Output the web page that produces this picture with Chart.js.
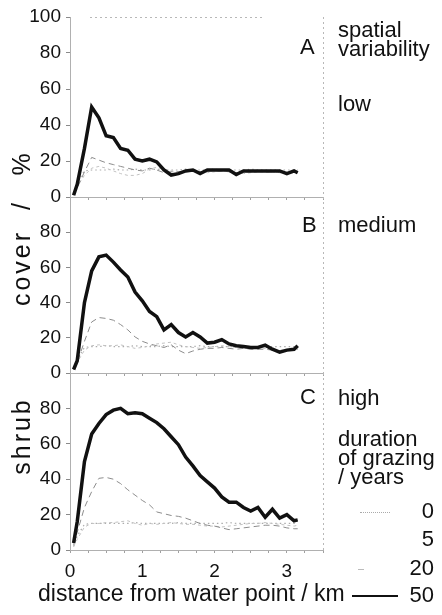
<!DOCTYPE html>
<html>
<head>
<meta charset="utf-8">
<script src="https://cdn.jsdelivr.net/npm/chart.js@4.4.0/dist/chart.umd.min.js"></script>
<style>
  html, body { margin: 0; padding: 0; background: #fff; }
  #wrap { position: relative; width: 442px; height: 615px; overflow: hidden;
          font-family: "Liberation Sans", Arial, sans-serif; color: #111; }
  #wrap canvas { position: absolute; left: 0; top: 0; }
  .t { position: absolute; font-size: 22px; line-height: 22px; white-space: nowrap; }
  .num { position: absolute; right: 8px; font-size: 22px; line-height: 22px; }
  .ytitle { position: absolute; font-size: 25px; line-height: 25px; letter-spacing: 3px;
            white-space: nowrap; transform: translate(-50%, -50%) rotate(-90deg); }
  .sample { position: absolute; }
</style>
</head>
<body>
<div id="wrap">
  <canvas id="panelA" width="442" height="615"></canvas>
  <canvas id="panelB" width="442" height="615"></canvas>
  <canvas id="panelC" width="442" height="615"></canvas>

  <div class="t" style="left:300px;top:36px">A</div>
  <div class="t" style="left:338px;top:19px">spatial</div>
  <div class="t" style="left:338px;top:38px">variability</div>
  <div class="t" style="left:338px;top:93px">low</div>
  <div class="t" style="left:302px;top:214px">B</div>
  <div class="t" style="left:338px;top:214px">medium</div>
  <div class="t" style="left:300px;top:386px">C</div>
  <div class="t" style="left:338px;top:387px">high</div>
  <div class="t" style="left:338px;top:428px">duration</div>
  <div class="t" style="left:338px;top:447px">of grazing</div>
  <div class="t" style="left:338px;top:466px">/ years</div>

  <div class="sample" style="left:360px;top:512px;width:30px;border-top:1px dotted #aaa"></div>
  <div class="sample" style="left:358px;top:569px;width:6px;border-top:1px solid #bbb"></div>
  <div class="sample" style="left:352px;top:595px;width:46px;height:2px;background:#111"></div>
  <div class="num" style="top:500px">0</div>
  <div class="num" style="top:528px">5</div>
  <div class="num" style="top:557px">20</div>
  <div class="num" style="top:584px">50</div>

  <div class="t" style="left:38px;top:582px;font-size:23px;line-height:23px">distance from water point / km</div>

  <div class="ytitle" style="left:21px;top:163px">%</div>
  <div class="ytitle" style="left:21px;top:205px">/</div>
  <div class="ytitle" style="left:21px;top:268px">cover</div>
  <div class="ytitle" style="left:21px;top:436px">shrub</div>
</div>

<script>
// distance from water point (km)
const distKm = [0.05, 0.1, 0.2, 0.3, 0.4, 0.5, 0.6, 0.7, 0.8, 0.9, 1.0, 1.1, 1.2, 1.3, 1.4, 1.5, 1.6,
                1.7, 1.8, 1.9, 2.0, 2.1, 2.2, 2.3, 2.4, 2.5, 2.6, 2.7, 2.8, 2.9, 3.0, 3.1, 3.15];

// shrub cover (%), panel A - low spatial variability
const lowYears50 = [1, 7, 27, 50, 44, 34, 33, 27, 26, 21, 20, 21, 19.5, 15, 12.2, 13, 14.5, 15, 13, 15,
                    15, 15, 15, 12.5, 14.5, 14.5, 14.5, 14.5, 14.5, 14.5, 13, 14.5, 13.5];
const lowYears20 = [1, 5, 14, 22, 20.5, 19, 18, 17, 16, 15, 14.5, 16, 15, 13.5, 14, 14, 14.5, 14.5, 14, 14.5,
                    14.5, 14.5, 14, 13.5, 14, 14, 14.5, 14, 14, 14, 13.5, 14, 14];
const lowYears5 = [2, 6, 12, 16, 17, 16, 14.5, 13, 12, 12, 13, 15.5, 16.5, 15.5, 14.5, 14, 14, 14.5, 14, 13.5,
                   14, 14.5, 14, 13.5, 13, 13.5, 14, 14, 14, 13.5, 13, 13.5, 13.5];
const lowYears0 = [2, 8, 14.5, 15, 15, 15, 15.5, 15, 15, 15.5, 15, 15, 15.5, 15, 15, 15, 15.5, 15, 15, 15,
                   15.5, 15, 15, 15, 15, 15.5, 15, 15, 15, 15, 15, 15, 15];

// panel B - medium spatial variability
const medYears50 = [2, 7, 40, 58, 66, 67, 63, 58.5, 54.5, 46, 41, 35, 32, 24.5, 27.5, 23, 20.5, 23, 20.5, 17,
                    17.5, 19, 16.5, 15.5, 15, 14.5, 14.5, 15.8, 13.5, 11.8, 13, 13.5, 15.5];
const medYears20 = [2, 6, 18, 29, 31.5, 31, 30, 27.5, 24.5, 20.5, 18, 16.5, 15.5, 14.5, 16, 13, 11, 12.5, 13.5, 14,
                    14, 14.5, 14, 13.5, 14, 13.5, 13.5, 13.5, 13, 12, 13, 13.5, 13.5];
const medYears5 = [2, 6, 13, 15.5, 16, 15.5, 15.5, 16, 15, 14, 14.5, 15.5, 16.5, 17, 17.5, 16, 15, 14.5, 14, 14.5,
                   15, 15.5, 15, 14.5, 14, 14, 14.5, 14, 13.5, 13, 13, 13.5, 14];
const medYears0 = [2, 8, 14.5, 15, 15, 15.5, 15, 15, 15, 15.5, 15, 15, 15, 15.5, 15, 15, 15, 15, 15.5, 15,
                   15, 15, 15, 15, 15.5, 15, 15, 15, 15, 15, 15, 15, 15];

// panel C - high spatial variability
const highYears50 = [4, 16, 50, 65.5, 71.5, 76.5, 79, 80, 77, 77.5, 77, 74.5, 72, 68.5, 64, 59.5, 52.5, 47.5, 42, 38.5,
                     35, 30, 27, 27, 24, 22, 24, 18.5, 23, 18, 20, 16.5, 17];
const highYears20 = [3, 10, 24, 33, 40.5, 41, 40, 37.5, 34, 31, 28, 25.5, 21.5, 20.5, 19.5, 19, 18, 16.5, 15, 14,
                     13.5, 12.5, 11.5, 12, 12.5, 13, 13.5, 14, 14, 13.5, 12.5, 12, 12];
const highYears5 = [2, 6, 13, 15, 15, 15.5, 15.5, 16, 16.5, 15, 14, 15, 14.5, 15, 15.5, 15, 14.5, 14.5, 14, 13.5,
                    13.5, 13, 13.5, 14, 14.5, 15, 15, 15.5, 15, 14.5, 14, 13.5, 14];
const highYears0 = [2, 8, 14.5, 15, 15, 15, 15, 15, 15, 15.5, 15, 15, 15, 15, 15, 15.5, 15, 15, 15, 15,
                    15, 15, 15.5, 15, 15, 15, 15, 15, 15, 15, 15, 15, 15];

const yTicks = [0, 20, 40, 60, 80, 100];
const xTickLabels = [0, 1, 2, 3];

const FONT = '"Liberation Sans", Arial, sans-serif';
const X_H = 40;

// dotted right / top frame of each panel
const frame = {
  id: 'frame',
  afterDraw(chart, args, opts) {
    const { ctx, chartArea: a } = chart;
    ctx.save();
    ctx.strokeStyle = '#b8b8b8';
    ctx.lineWidth = 1;
    ctx.setLineDash([2, 3]);
    ctx.beginPath();
    ctx.moveTo(a.right + 0.5, a.top);
    ctx.lineTo(a.right + 0.5, a.bottom);
    if (opts.top) {
      ctx.moveTo(a.left + 20, a.top + 0.5);
      ctx.lineTo(a.right - 60, a.top + 0.5);
    }
    ctx.stroke();
    ctx.restore();
  }
};

const pts = (ys) => distKm.map((x, i) => ({ x: x, y: ys[i] }));

function makePanel(id, top, bottom, s50, s20, s5, s0, showX, show100) {
  return new Chart(document.getElementById(id), {
    type: 'line',
    data: {
      datasets: [
        { label: '50', data: pts(s50), borderColor: '#111', borderWidth: 3.5 },
        { label: '20', data: pts(s20), borderColor: '#8c8c8c', borderWidth: 1, borderDash: [6, 4] },
        { label: '5', data: pts(s5), borderColor: '#c2c2c2', borderWidth: 1, borderDash: [3, 3] },
        { label: '0', data: pts(s0), borderColor: '#ababab', borderWidth: 1.2, borderDash: [1.5, 3] },
      ],
    },
    options: {
      responsive: false,
      animation: false,
      events: [],
      elements: { point: { radius: 0 }, line: { tension: 0 } },
      layout: { padding: { top: top, bottom: 615 - bottom - X_H, left: 0, right: 119 } },
      plugins: { legend: { display: false }, tooltip: { enabled: false }, frame: { top: top < 30 } },
      scales: {
        x: {
          type: 'linear', min: 0, max: 3.5,
          afterFit: (s) => { s.height = X_H; },
          afterBuildTicks: (s) => {
            s.ticks = [];
            for (let k = 0; k <= 14; k++) s.ticks.push({ value: k / 4 });
          },
          ticks: {
            display: showX, autoSkip: false, maxRotation: 0, padding: 7, color: '#111',
            font: { family: FONT, size: 19 },
            callback: (v) => (xTickLabels.includes(v) ? String(v) : ''),
          },
          grid: { drawOnChartArea: false, tickLength: 3, color: '#a0a0a0' },
          border: { display: true, color: '#b0b0b0', dash: [2, 3] },
        },
        y: {
          min: 0, max: 100,
          afterFit: (s) => { s.width = 70; },
          afterBuildTicks: (s) => { s.ticks = yTicks.map((v) => ({ value: v })); },
          ticks: {
            padding: 5, color: '#111',
            font: { family: FONT, size: 19 },
            callback: (v) => (v === 100 && !show100 ? '' : String(v)),
          },
          grid: { drawOnChartArea: false, tickLength: 4, color: '#8a8a8a' },
          border: { display: true, color: '#b0b0b0', dash: [2, 2] },
        },
      },
    },
    plugins: [frame],
  });
}

makePanel('panelA', 17, 197, lowYears50, lowYears20, lowYears5, lowYears0, false, true);
makePanel('panelB', 197, 373, medYears50, medYears20, medYears5, medYears0, false, false);
makePanel('panelC', 373, 550, highYears50, highYears20, highYears5, highYears0, true, false);
</script>
</body>
</html>
